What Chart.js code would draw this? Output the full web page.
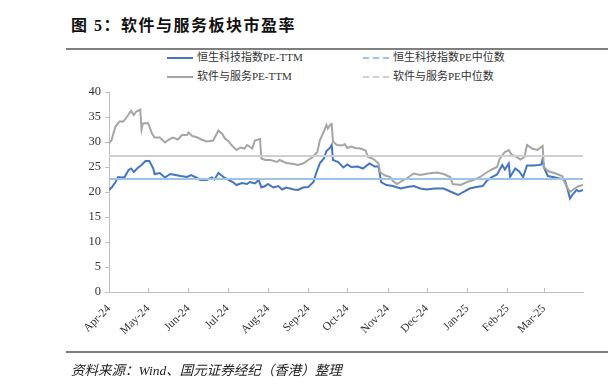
<!DOCTYPE html>
<html>
<head>
<meta charset="utf-8">
<script src="https://cdn.jsdelivr.net/npm/chart.js@4.4.1/dist/chart.umd.min.js"></script>
<style>
  html, body { margin: 0; padding: 0; background: #fff; }
  #wrap { position: relative; width: 608px; height: 390px; overflow: hidden; }
  #chart { position: absolute; left: 0; top: 0; }
  .title { position: absolute; left: 71px; top: 12px; font: bold 16px "Liberation Serif", "Noto Sans CJK SC", serif; color: #111; letter-spacing: 1.5px; }
  .rule { position: absolute; left: 66px; width: 542px; height: 2px; background: #7f7f7f; }
  .source { position: absolute; left: 71px; top: 359px; font: italic 13.5px "Liberation Serif", "Noto Sans CJK SC", serif; color: #222; }
  .lg { position: absolute; font: 11px "Liberation Serif", "Noto Sans CJK SC", serif; color: #333; white-space: nowrap; line-height: 14px; }
  .sw { position: absolute; width: 26px; height: 0; }
</style>
</head>
<body>
<div id="wrap">
  <div class="title">图 5：软件与服务板块市盈率</div>
  <div class="rule" style="top:48px"></div>

  <div class="sw" style="left:167px;top:57px;border-top:2px solid #4575C0"></div>
  <div class="lg" style="left:197px;top:50px">恒生科技指数PE-TTM</div>
  <div class="sw" style="left:363px;top:57px;border-top:2px dashed #9DC3E6"></div>
  <div class="lg" style="left:393px;top:50px">恒生科技指数PE中位数</div>
  <div class="sw" style="left:167px;top:76px;border-top:2px solid #A5A5A5"></div>
  <div class="lg" style="left:197px;top:69px">软件与服务PE-TTM</div>
  <div class="sw" style="left:363px;top:76px;border-top:2px dashed #CFCFCF"></div>
  <div class="lg" style="left:393px;top:69px">软件与服务PE中位数</div>

  <canvas id="chart" width="608" height="390"></canvas>

  <div class="rule" style="top:351px"></div>
  <div class="source">资料来源：Wind、国元证券经纪（香港）整理</div>
</div>
<script>
// x = days since 2024-04-01
const monthStarts = [0, 30, 61, 91, 122, 153, 183, 214, 244, 275, 306, 334];
const monthLabels = ['Apr-24', 'May-24', 'Jun-24', 'Jul-24', 'Aug-24', 'Sep-24', 'Oct-24', 'Nov-24', 'Dec-24', 'Jan-25', 'Feb-25', 'Mar-25'];
const lastDay = 364;

// 恒生科技指数PE-TTM
const hstechDays = [0, 2, 5, 7, 10, 12, 15, 17, 19, 22, 25, 28, 31, 34, 35, 39, 43, 47, 51, 55, 60, 63, 67, 70, 75, 79, 81, 84, 88, 92, 95, 98, 102, 106, 108, 112, 115, 117, 120, 122, 126, 130, 133, 136, 142, 145, 149, 153, 157, 159, 162, 165, 167, 170, 171, 172, 176, 180, 183, 186, 191, 195, 200, 204, 207, 209, 213, 218, 224, 229, 234, 239, 244, 250, 257, 263, 268, 272, 277, 282, 287, 290, 294, 298, 302, 304, 307, 308, 312, 315, 318, 321, 326, 330, 332, 333, 334, 337, 341, 346, 350, 352, 354, 356, 359, 361, 364];
const hstechPE = [20.4, 20.9, 22.0, 23.0, 22.9, 23.0, 24.4, 24.7, 24.0, 24.8, 25.4, 26.2, 26.2, 24.7, 23.6, 23.8, 22.9, 23.6, 23.4, 23.2, 23.0, 23.4, 22.9, 22.4, 22.4, 22.9, 22.5, 23.8, 23.0, 22.4, 22.0, 21.4, 21.8, 21.6, 22.0, 21.7, 22.4, 20.9, 21.2, 21.6, 20.9, 21.2, 20.5, 20.9, 20.5, 20.4, 20.9, 21.0, 22.0, 23.7, 25.8, 26.7, 28.2, 28.9, 29.4, 26.4, 26.0, 24.9, 25.5, 25.0, 25.1, 24.7, 25.7, 25.1, 25.1, 22.0, 21.4, 21.2, 20.7, 21.0, 21.2, 20.7, 20.5, 20.7, 20.7, 20.0, 19.4, 20.0, 20.7, 21.0, 21.2, 22.2, 23.0, 23.5, 25.4, 24.5, 25.7, 23.0, 24.7, 24.1, 23.0, 25.3, 25.3, 25.4, 25.5, 26.6, 24.9, 23.2, 23.0, 22.7, 22.4, 20.7, 18.7, 19.5, 20.4, 20.1, 20.4];
const hstechMedian = 22.6;

// 软件与服务PE-TTM
const softDays = [0, 2, 3, 5, 6, 8, 11, 14, 16, 17, 19, 21, 24, 25, 26, 30, 33, 35, 39, 43, 46, 49, 53, 56, 60, 61, 64, 67, 71, 75, 80, 84, 87, 89, 92, 94, 98, 101, 104, 106, 110, 112, 116, 117, 120, 124, 129, 131, 136, 142, 145, 149, 153, 156, 160, 162, 165, 167, 168, 170, 171, 172, 175, 179, 181, 183, 186, 189, 193, 197, 199, 202, 204, 207, 208, 212, 216, 218, 221, 225, 229, 234, 239, 245, 252, 257, 262, 264, 270, 275, 280, 285, 290, 294, 298, 300, 304, 307, 309, 313, 316, 319, 321, 325, 329, 333, 334, 337, 343, 348, 351, 354, 357, 360, 364];
const softPE = [29.7, 30.4, 31.4, 33.1, 33.4, 34.1, 34.1, 35.1, 35.9, 36.2, 35.4, 36.1, 36.5, 32.5, 33.7, 33.8, 31.7, 30.9, 30.9, 29.9, 30.5, 30.9, 30.5, 31.4, 31.4, 31.9, 31.2, 31.0, 30.5, 30.1, 30.3, 32.3, 31.6, 30.7, 30.1, 29.4, 28.4, 28.9, 28.7, 29.4, 28.7, 30.3, 30.6, 26.7, 26.4, 26.4, 26.0, 26.4, 25.8, 25.6, 25.4, 25.7, 26.4, 26.9, 28.0, 30.4, 32.1, 33.4, 32.7, 33.5, 33.6, 30.1, 29.4, 29.3, 29.6, 28.8, 29.1, 28.8, 28.7, 28.3, 27.0, 26.7, 26.4, 25.7, 24.0, 23.3, 23.0, 22.2, 21.6, 22.2, 22.8, 23.7, 23.4, 23.7, 23.9, 23.6, 23.0, 21.6, 21.4, 22.0, 22.4, 23.0, 23.9, 24.5, 25.0, 26.6, 28.0, 28.4, 27.5, 27.0, 26.5, 27.0, 29.4, 28.7, 28.4, 29.2, 25.0, 24.2, 23.7, 23.2, 21.3, 20.0, 20.6, 21.1, 21.4];
const softMedian = 27.2;

const toPoints = (days, vals) => days.map((d, i) => ({ x: d, y: vals[i] }));
const flat = v => [{ x: 0, y: v }, { x: lastDay, y: v }];

const serif = '"Liberation Serif", "Times New Roman", serif';
const axisColor = '#BFBFBF';

// small tick marks pointing up into the plot on the x axis
const innerTicks = {
    id: 'innerTicks',
    afterDraw(chart) {
        const ctx = chart.ctx;
        const xs = chart.scales.x;
        const bottom = chart.chartArea.bottom;
        ctx.save();
        ctx.strokeStyle = axisColor;
        ctx.lineWidth = 1;
        monthStarts.slice(1).forEach(d => {
            const px = Math.round(xs.getPixelForValue(d)) + 0.5;
            ctx.beginPath();
            ctx.moveTo(px, bottom);
            ctx.lineTo(px, bottom - 4);
            ctx.stroke();
        });
        ctx.restore();
    }
};

new Chart(document.getElementById('chart'), {
    type: 'line',
    data: {
        datasets: [
            { label: '软件与服务PE中位数', data: flat(softMedian), borderColor: '#CFCFCF', borderWidth: 2 },
            { label: '恒生科技指数PE中位数', data: flat(hstechMedian), borderColor: '#9DC3E6', borderWidth: 2 },
            { label: '软件与服务PE-TTM', data: toPoints(softDays, softPE), borderColor: '#A5A5A5', borderWidth: 2 },
            { label: '恒生科技指数PE-TTM', data: toPoints(hstechDays, hstechPE), borderColor: '#4575C0', borderWidth: 2 }
        ]
    },
    options: {
        responsive: false,
        animation: false,
        elements: { point: { radius: 0 }, line: { tension: 0 } },
        layout: { padding: { left: 69, right: 25, top: 92, bottom: 48 } },
        plugins: { legend: { display: false }, tooltip: { enabled: false } },
        scales: {
            x: {
                type: 'linear',
                min: 0,
                max: lastDay,
                afterFit: s => { s.height = 50; },
                afterBuildTicks: s => { s.ticks = monthStarts.map(v => ({ value: v })); },
                grid: { display: false },
                border: { color: axisColor, width: 1 },
                ticks: {
                    autoSkip: false,
                    maxRotation: 45,
                    minRotation: 45,
                    padding: 2,
                    color: '#333',
                    font: { family: serif, size: 11.5 },
                    callback: (v, i) => monthLabels[i]
                }
            },
            y: {
                min: 0,
                max: 40,
                afterFit: s => { s.width = 40; },
                grid: { drawOnChartArea: false, drawTicks: true, tickLength: 4, color: axisColor },
                border: { color: axisColor, width: 1 },
                ticks: { stepSize: 5, padding: 4, color: '#333', font: { family: serif, size: 12.5 } }
            }
        }
    },
    plugins: [innerTicks]
});
</script>
</body>
</html>
